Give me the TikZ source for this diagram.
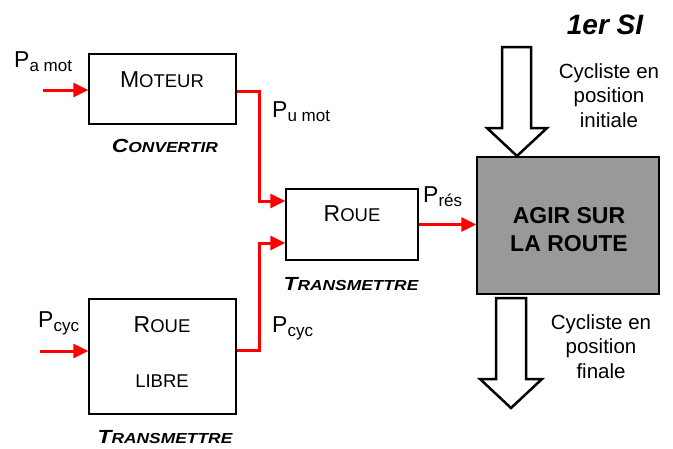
\documentclass[tikz,border=0pt]{standalone}
\usepackage{fontspec}
\usepackage{graphicx}
\setmainfont{Liberation Sans}
\usetikzlibrary{arrows.meta,calc}
\newcommand{\fsz}[1]{\fontsize{#1}{#1}\selectfont}
\newcommand{\bigsc}[2]{{\fsz{23}#1}{\fsz{18.5}#2}}
\newcommand{\bisc}[2]{\scalebox{1.2}[1]{\bfseries\itshape{\fsz{19}#1}{\fsz{14.5}#2}}}
\newcommand{\pwr}[1]{{\fsz{23}P}{\fsz{17}\raisebox{-4pt}{#1}}}
\begin{document}
\begin{tikzpicture}[x=1pt,y=-1pt,
  blk/.style={draw=black,line width=1.5pt,inner sep=0pt},
  txt/.style={inner sep=0pt,anchor=base},
  lbl/.style={inner sep=0pt,anchor=base west},
  cyc/.style={inner sep=0pt,anchor=base,font=\fsz{20.5}},
  pw/.style={draw=red,line width=3pt,line join=miter,-{Triangle[length=15pt,width=14pt]}},
  hollow/.style={draw=black,fill=white,line width=2.5pt,line join=miter}]
\useasboundingbox (0,0) rectangle (673,448);
% boxes
\node[blk,minimum width=147pt,minimum height=70pt] (moteur) at (162.5,89) {};
\node[blk,minimum width=132pt,minimum height=71pt] (roue) at (352,224.5) {};
\node[blk,minimum width=147pt,minimum height=115pt] (libre) at (162.5,356.5) {};
\node[blk,fill={rgb,255:red,153;green,153;blue,153},minimum width=182pt,minimum height=137pt] (agir) at (568,225.5) {};
% box texts
\node[txt] (tmot) at (162,87) {\bigsc{M}{OTEUR}};
\node[txt] (troue) at (352,221) {\bigsc{R}{OUE}};
\node[txt] (troue2) at (162,332) {\bigsc{R}{OUE}};
\node[txt] (tlibre) at (162,387) {\fsz{18.5}LIBRE};
\node[txt,font=\bfseries\fsz{23}] (tagir1) at (569,223) {AGIR SUR};
\node[txt,font=\bfseries\fsz{23}] (tagir2) at (569,251) {LA ROUTE};
% function labels
\node[txt] (fconv) at (165,152) {\bisc{C}{ONVERTIR}};
\node[txt] (ftr1) at (351,290) {\bisc{T}{RANSMETTRE}};
\node[txt] (ftr2) at (165,443) {\bisc{T}{RANSMETTRE}};
\node[txt,font=\bfseries\itshape\fsz{28}] (si) at (605,34) {1er SI};
% power labels
\node[lbl] (lpa) at (14,67) {\pwr{a mot}};
\node[lbl] (lpu) at (272,117) {\pwr{u mot}};
\node[lbl] (lpres) at (423,202) {\pwr{rés}};
\node[lbl] (lpc1) at (38,327) {\pwr{cyc}};
\node[lbl] (lpc2) at (272,332) {\pwr{cyc}};
% cycliste texts
\node[cyc] (c1) at (609,78) {Cycliste en};
\node[cyc] (c2) at (609,102.5) {position};
\node[cyc] (c3) at (609,127) {initiale};
\node[cyc] (d1) at (601,329) {Cycliste en};
\node[cyc] (d2) at (601,353.5) {position};
\node[cyc] (d3) at (601,378) {finale};
% red power arrows
\coordinate (pain) at (43,90);
\coordinate (pcin) at (40,351);
\draw[pw] (pain) -- (pain -| moteur.west);
\draw[pw] (pcin) -- (pcin -| libre.west);
\draw[pw] ([yshift=-2pt]moteur.east) -- (259,91) -- (259,201) -- ([yshift=23.5pt]roue.west);
\draw[pw] ([yshift=6.5pt]libre.east) -- (259,350) -- (259,243) -- ([yshift=-18.5pt]roue.west);
\draw[pw] (roue.east) -- (roue.east -| agir.west);
% hollow arrows
\draw[hollow] (502,47) -- (531,47) -- (531,128) -- (547,128) -- (517,156) -- (487,128) -- (502,128) -- cycle;
\draw[hollow] (496,298) -- (526,298) -- (526,379) -- (542,379) -- (511,408) -- (480,379) -- (496,379) -- cycle;
\end{tikzpicture}
\end{document}
